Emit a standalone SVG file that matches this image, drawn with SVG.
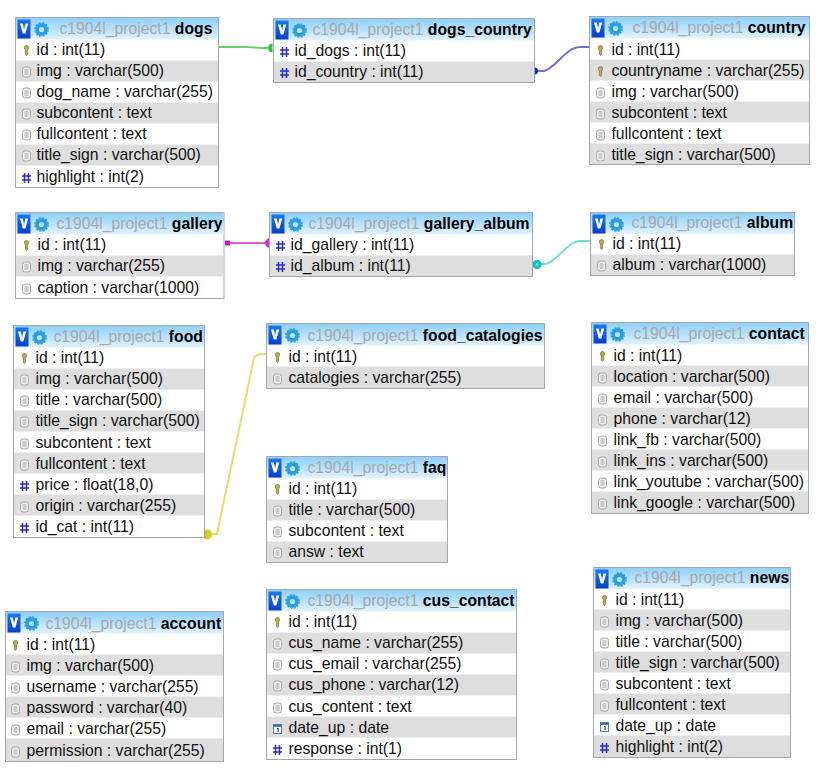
<svg xmlns="http://www.w3.org/2000/svg" width="831" height="784" viewBox="0 0 831 784">
<style>
text{font-family:"Liberation Sans",Arial,sans-serif;font-size:15.72px;fill:#111}
.b{fill:#fff;stroke:#a3a8ac;stroke-width:1}
.h{fill:url(#hd)}
.a{fill:#dedede}
.db{fill:#a8a8a8}
.n{font-weight:bold;fill:#000}
.c{fill:none;stroke-width:2;opacity:.72}
</style>
<defs>
<linearGradient id="hd" x1="0" y1="0" x2="0" y2="1"><stop offset="0" stop-color="#8fd0f8"/><stop offset=".6" stop-color="#bfe4fb"/><stop offset="1" stop-color="#e3f3fd"/></linearGradient>
<linearGradient id="vb" x1="0" y1="0" x2="0" y2="1"><stop offset="0" stop-color="#1a78f0"/><stop offset="1" stop-color="#0a3fc8"/></linearGradient>
<g id="hicon">
<rect x="2" y="2" width="13" height="19" fill="url(#vb)"/>
<path d="M4.500 6h2.800l1.300 6 1.300-6h2.800l-2.800 10h-2.600z" fill="#fff"/>
<circle cx="26" cy="12" r="4.400" fill="none" stroke="#2a9fe0" stroke-width="3.600"/>
<circle cx="26" cy="12" r="6.600" fill="none" stroke="#2a9fe0" stroke-width="1.400" stroke-dasharray="2.200 1.300"/>
</g>
<g id="key"><path d="M0-5a2.200 2.200 0 0 1 2.200 2.200c0 1-.5 1.600-1 2V3.800L0 5l-1.200-1.200V-.8c-.5-.4-1-1-1-2A2.200 2.200 0 0 1 0-5z" fill="#b9ab55" stroke="#7a7640" stroke-width=".7"/></g>
<g id="doc"><rect x="-4" y="-4.500" width="8" height="10" rx="2.500" fill="#eee" stroke="#aaa"/><path d="M-2-1.500h4M-2 .5h4M-2 2.500h4" stroke="#aaa" fill="none"/></g>
<g id="hash"><path d="M-2-4.500v10M2-4.500v10M-4.500-1.500h9M-4.500 2.500h9" stroke="#2a2ad0" stroke-width="1.500" fill="none"/></g>
<g id="date"><rect x="-4" y="-4" width="8" height="9" fill="#fff" stroke="#5a7fb8"/><rect x="-4" y="-4" width="8" height="2.400" fill="#2f6fc0"/><path d="M-.5 0.200L.6-.4V3.500" stroke="#222" fill="none"/></g>
</defs>
<rect width="831" height="784" fill="#fff"/>

<g id="connectors">
<path class="c" stroke="#2dbf2d" d="M218 47H245C252 47 258 48 268 48"/>
<path d="M272.500 43.500a4.500 4.500 0 0 0 0 9z" fill="#2dc63a"/>
<path class="c" stroke="#3a3ac0" d="M538 71H544C556 68 566 47 580 47H590"/>
<path d="M534.500 67.500a3.500 3.500 0 0 1 0 7z" fill="#2323b0"/>
<path class="c" stroke="#d020c8" d="M228 243H266"/>
<rect x="225" y="240.500" width="5" height="5" fill="#c818c0"/>
<path d="M270 238a5 5 0 0 0 0 10z" fill="#d030c8"/>
<path class="c" stroke="#40d0c8" d="M541 264H546C556 262 568 241 580 241H591"/>
<circle cx="537" cy="264.500" r="3" fill="#7fe3de" stroke="#12c4bc" stroke-width="3.400"/>
<path class="c" stroke="#d4d430" d="M212 534H217L254 358C255 355 258 354 267 354"/>
<circle cx="207" cy="534.500" r="5" fill="#d0d020"/>
</g>

<g id="dogs" transform="translate(15.500 17.500)">
<rect class="b" width="203" height="170"/><rect class="h" x=".5" y=".5" width="202" height="21.500"/><use href="#hicon"/>
<rect class="a" x=".5" y="43" width="202" height="21"/><rect class="a" x=".5" y="85" width="202" height="21"/><rect class="a" x=".5" y="127" width="202" height="21"/>
<text x="44" y="16"><tspan class="db">c1904l_project1</tspan> <tspan class="n">dogs</tspan></text>
<use href="#key" x="11" y="33"/><text x="21" y="37">id : int(11)</text>
<use href="#doc" x="11" y="54"/><text x="21" y="58">img : varchar(500)</text>
<use href="#doc" x="11" y="75"/><text x="21" y="79">dog_name : varchar(255)</text>
<use href="#doc" x="11" y="96"/><text x="21" y="100">subcontent : text</text>
<use href="#doc" x="11" y="117"/><text x="21" y="121">fullcontent : text</text>
<use href="#doc" x="11" y="138"/><text x="21" y="142">title_sign : varchar(500)</text>
<use href="#hash" x="11" y="160"/><text x="21" y="164">highlight : int(2)</text>
</g>

<g id="dogs_country" transform="translate(273.500 18.500)">
<rect class="b" width="261" height="64"/><rect class="h" x=".5" y=".5" width="260" height="21.500"/><use href="#hicon"/>
<rect class="a" x=".5" y="43" width="260" height="20.500"/>
<text x="39" y="16"><tspan class="db">c1904l_project1</tspan> <tspan class="n">dogs_country</tspan></text>
<use href="#hash" x="11" y="33"/><text x="21" y="37">id_dogs : int(11)</text>
<use href="#hash" x="11" y="54"/><text x="21" y="58">id_country : int(11)</text>
</g>

<g id="country" transform="translate(589.500 16.500)">
<rect class="b" width="220" height="148"/><rect class="h" x=".5" y=".5" width="219" height="21.500"/><use href="#hicon"/>
<rect class="a" x=".5" y="43" width="219" height="21"/><rect class="a" x=".5" y="85" width="219" height="21"/><rect class="a" x=".5" y="127" width="219" height="20.500"/>
<text x="43" y="16"><tspan class="db">c1904l_project1</tspan> <tspan class="n">country</tspan></text>
<use href="#key" x="11" y="34"/><text x="22" y="38">id : int(11)</text>
<use href="#key" x="11" y="55"/><text x="22" y="59">countryname : varchar(255)</text>
<use href="#doc" x="11" y="76"/><text x="22" y="80">img : varchar(500)</text>
<use href="#doc" x="11" y="97"/><text x="22" y="101">subcontent : text</text>
<use href="#doc" x="11" y="118"/><text x="22" y="122">fullcontent : text</text>
<use href="#doc" x="11" y="139"/><text x="22" y="143">title_sign : varchar(500)</text>
</g>

<g id="gallery" transform="translate(15.500 212.500)">
<rect class="b" width="208.500" height="86"/><rect class="h" x=".5" y=".5" width="207.500" height="21.500"/><use href="#hicon"/>
<rect class="a" x=".5" y="43" width="207.500" height="21"/>
<text x="41" y="16"><tspan class="db">c1904l_project1</tspan> <tspan class="n">gallery</tspan></text>
<use href="#key" x="11" y="33"/><text x="22" y="37">id : int(11)</text>
<use href="#doc" x="11" y="54"/><text x="22" y="58">img : varchar(255)</text>
<use href="#doc" x="11" y="76"/><text x="22" y="80">caption : varchar(1000)</text>
</g>

<g id="gallery_album" transform="translate(269.500 212.500)">
<rect class="b" width="263" height="64"/><rect class="h" x=".5" y=".5" width="262" height="21.500"/><use href="#hicon"/>
<rect class="a" x=".5" y="43" width="262" height="20.500"/>
<text x="39" y="16"><tspan class="db">c1904l_project1</tspan> <tspan class="n">gallery_album</tspan></text>
<use href="#hash" x="11" y="33"/><text x="21" y="37">id_gallery : int(11)</text>
<use href="#hash" x="11" y="54"/><text x="21" y="58">id_album : int(11)</text>
</g>

<g id="album" transform="translate(590.500 212.500)">
<rect class="b" width="204" height="63"/><rect class="h" x=".5" y=".5" width="203" height="21"/><use href="#hicon"/>
<rect class="a" x=".5" y="42" width="203" height="20.500"/>
<text x="41" y="15"><tspan class="db">c1904l_project1</tspan> <tspan class="n">album</tspan></text>
<use href="#key" x="11" y="32"/><text x="22" y="36">id : int(11)</text>
<use href="#doc" x="11" y="53"/><text x="22" y="57">album : varchar(1000)</text>
</g>

<g id="food" transform="translate(13.500 325.500)">
<rect class="b" width="191" height="212"/><rect class="h" x=".5" y=".5" width="190" height="21.500"/><use href="#hicon"/>
<rect class="a" x=".5" y="43" width="190" height="21"/><rect class="a" x=".5" y="85" width="190" height="21"/><rect class="a" x=".5" y="127" width="190" height="21"/><rect class="a" x=".5" y="169" width="190" height="21"/>
<text x="40" y="16"><tspan class="db">c1904l_project1</tspan> <tspan class="n">food</tspan></text>
<use href="#key" x="11" y="33"/><text x="22" y="37">id : int(11)</text>
<use href="#doc" x="11" y="54"/><text x="22" y="58">img : varchar(500)</text>
<use href="#doc" x="11" y="75"/><text x="22" y="79">title : varchar(500)</text>
<use href="#doc" x="11" y="96"/><text x="22" y="100">title_sign : varchar(500)</text>
<use href="#doc" x="11" y="118"/><text x="22" y="122">subcontent : text</text>
<use href="#doc" x="11" y="139"/><text x="22" y="143">fullcontent : text</text>
<use href="#hash" x="11" y="160"/><text x="22" y="164">price : float(18,0)</text>
<use href="#doc" x="11" y="181"/><text x="22" y="185">origin : varchar(255)</text>
<use href="#hash" x="11" y="202"/><text x="22" y="206">id_cat : int(11)</text>
</g>

<g id="food_catalogies" transform="translate(266.500 323.500)">
<rect class="b" width="278" height="65"/><rect class="h" x=".5" y=".5" width="277" height="21.500"/><use href="#hicon"/>
<rect class="a" x=".5" y="43" width="277" height="21.500"/>
<text x="41" y="17"><tspan class="db">c1904l_project1</tspan> <tspan class="n">food_catalogies</tspan></text>
<use href="#key" x="11" y="34"/><text x="22" y="38">id : int(11)</text>
<use href="#doc" x="11" y="55"/><text x="22" y="59">catalogies : varchar(255)</text>
</g>

<g id="contact" transform="translate(591.500 322.500)">
<rect class="b" width="217" height="191"/><rect class="h" x=".5" y=".5" width="216" height="21.500"/><use href="#hicon"/>
<rect class="a" x=".5" y="43" width="216" height="21"/><rect class="a" x=".5" y="85" width="216" height="21"/><rect class="a" x=".5" y="127" width="216" height="21"/><rect class="a" x=".5" y="169" width="216" height="21.500"/>
<text x="42" y="16"><tspan class="db">c1904l_project1</tspan> <tspan class="n">contact</tspan></text>
<use href="#key" x="11" y="34"/><text x="22" y="38">id : int(11)</text>
<use href="#doc" x="11" y="55"/><text x="22" y="59">location : varchar(500)</text>
<use href="#doc" x="11" y="76"/><text x="22" y="80">email : varchar(500)</text>
<use href="#doc" x="11" y="97"/><text x="22" y="101">phone : varchar(12)</text>
<use href="#doc" x="11" y="118"/><text x="22" y="122">link_fb : varchar(500)</text>
<use href="#doc" x="11" y="139"/><text x="22" y="143">link_ins : varchar(500)</text>
<use href="#doc" x="11" y="160"/><text x="22" y="164">link_youtube : varchar(500)</text>
<use href="#doc" x="11" y="181"/><text x="22" y="185">link_google : varchar(500)</text>
</g>

<g id="faq" transform="translate(266.500 456.500)">
<rect class="b" width="181" height="106"/><rect class="h" x=".5" y=".5" width="180" height="21.500"/><use href="#hicon"/>
<rect class="a" x=".5" y="43" width="180" height="21"/><rect class="a" x=".5" y="85" width="180" height="20.500"/>
<text x="41" y="16"><tspan class="db">c1904l_project1</tspan> <tspan class="n">faq</tspan></text>
<use href="#key" x="11" y="33"/><text x="22" y="37">id : int(11)</text>
<use href="#doc" x="11" y="54"/><text x="22" y="58">title : varchar(500)</text>
<use href="#doc" x="11" y="75"/><text x="22" y="79">subcontent : text</text>
<use href="#doc" x="11" y="96"/><text x="22" y="100">answ : text</text>
</g>

<g id="account" transform="translate(5.500 611.500)">
<rect class="b" width="218" height="150"/><rect class="h" x=".5" y=".5" width="217" height="21.500"/><use href="#hicon"/>
<rect class="a" x=".5" y="43" width="217" height="21"/><rect class="a" x=".5" y="85" width="217" height="21"/><rect class="a" x=".5" y="127" width="217" height="22.500"/>
<text x="40" y="17"><tspan class="db">c1904l_project1</tspan> <tspan class="n">account</tspan></text>
<use href="#key" x="10" y="34"/><text x="21" y="38">id : int(11)</text>
<use href="#doc" x="10" y="55"/><text x="21" y="59">img : varchar(500)</text>
<use href="#doc" x="10" y="76"/><text x="21" y="80">username : varchar(255)</text>
<use href="#doc" x="10" y="97"/><text x="21" y="101">password : varchar(40)</text>
<use href="#doc" x="10" y="118"/><text x="21" y="122">email : varchar(255)</text>
<use href="#doc" x="10" y="140"/><text x="21" y="144">permission : varchar(255)</text>
</g>

<g id="cus_contact" transform="translate(266.500 589.500)">
<rect class="b" width="250" height="170"/><rect class="h" x=".5" y=".5" width="249" height="21.500"/><use href="#hicon"/>
<rect class="a" x=".5" y="43" width="249" height="21"/><rect class="a" x=".5" y="85" width="249" height="21"/><rect class="a" x=".5" y="127" width="249" height="21"/>
<text x="41" y="16"><tspan class="db">c1904l_project1</tspan> <tspan class="n">cus_contact</tspan></text>
<use href="#key" x="11" y="33"/><text x="22" y="37">id : int(11)</text>
<use href="#doc" x="11" y="54"/><text x="22" y="58">cus_name : varchar(255)</text>
<use href="#doc" x="11" y="75"/><text x="22" y="79">cus_email : varchar(255)</text>
<use href="#doc" x="11" y="96"/><text x="22" y="100">cus_phone : varchar(12)</text>
<use href="#doc" x="11" y="118"/><text x="22" y="122">cus_content : text</text>
<use href="#date" x="11" y="139"/><text x="22" y="143">date_up : date</text>
<use href="#hash" x="11" y="160"/><text x="22" y="164">response : int(1)</text>
</g>

<g id="news" transform="translate(593.500 567.500)">
<rect class="b" width="197" height="190"/><rect class="h" x=".5" y=".5" width="196" height="21"/><use href="#hicon"/>
<rect class="a" x=".5" y="42" width="196" height="21"/><rect class="a" x=".5" y="84" width="196" height="21"/><rect class="a" x=".5" y="126" width="196" height="21"/><rect class="a" x=".5" y="168" width="196" height="21.500"/>
<text x="41" y="15"><tspan class="db">c1904l_project1</tspan> <tspan class="n">news</tspan></text>
<use href="#key" x="11" y="33"/><text x="22" y="37">id : int(11)</text>
<use href="#doc" x="11" y="54"/><text x="22" y="58">img : varchar(500)</text>
<use href="#doc" x="11" y="75"/><text x="22" y="79">title : varchar(500)</text>
<use href="#doc" x="11" y="96"/><text x="22" y="100">title_sign : varchar(500)</text>
<use href="#doc" x="11" y="117"/><text x="22" y="121">subcontent : text</text>
<use href="#doc" x="11" y="138"/><text x="22" y="142">fullcontent : text</text>
<use href="#date" x="11" y="159"/><text x="22" y="163">date_up : date</text>
<use href="#hash" x="11" y="180"/><text x="22" y="184">highlight : int(2)</text>
</g>
</svg>
